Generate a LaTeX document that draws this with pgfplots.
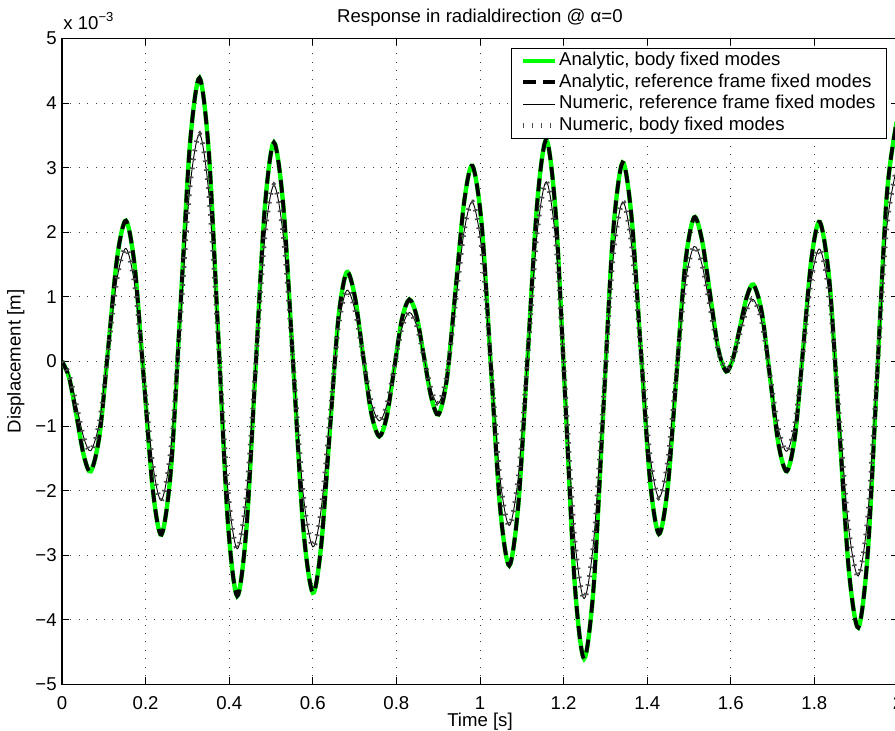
\documentclass[border=0pt]{standalone}
\usepackage{fontspec}
\setmainfont{Liberation Sans}
\usepackage{pgfplots}
\usepackage{pgfplotstable}
\pgfplotsset{compat=1.18}
\definecolor{mgreen}{rgb}{0,1,0}

% displacement in units of 1e-3 m; a = analytic, n = numeric
\pgfplotstableread{
t      a       n
0.000  0.000   0.000
0.017  -0.249  -0.202
0.035  -0.850  -0.690
0.052  -1.451  -1.178
0.069  -1.700  -1.380
0.090  -1.132  -0.922
0.111  0.240   0.185
0.132  1.612   1.292
0.153  2.180   1.750
0.174  1.469   1.179
0.1955 -0.250  -0.200
0.217  -1.968  -1.579
0.238  -2.680  -2.150
0.261  -1.645  -1.320
0.2835 0.855   0.685
0.306  3.355   2.690
0.329  4.390   3.520
0.3515 3.216   2.580
0.374  0.380   0.310
0.3965 -2.456  -1.960
0.419  -3.630  -2.900
0.441  -2.602  -2.076
0.463  -0.120  -0.085
0.485  2.362   1.906
0.507  3.390   2.730
0.530  2.370   1.910
0.5535 -0.095  -0.070
0.577  -2.560  -2.050
0.600  -3.580  -2.870
0.620  -2.854  -2.289
0.6405 -1.100  -0.885
0.661  0.654   0.519
0.681  1.380   1.100
0.7005 1.008   0.804
0.720  0.110   0.090
0.7395 -0.788  -0.624
0.759  -1.160  -0.920
0.777  -0.850  -0.674
0.795  -0.100  -0.080
0.813  0.650   0.514
0.831  0.960   0.760
0.8485 0.699   0.554
0.866  0.070   0.055
0.8835 -0.559  -0.444
0.901  -0.820  -0.650
0.921  -0.256  -0.193
0.9415 1.105   0.910
0.962  2.466   2.013
0.982  3.030   2.470
1.004  2.124   1.737
1.026  -0.065  -0.035
1.048  -2.254  -1.807
1.070  -3.160  -2.540
1.092  -2.195  -1.761
1.1145 0.135   0.120
1.137  2.465   2.001
1.159  3.430   2.780
1.1815 2.254   1.836
1.204  -0.585  -0.445
1.2265 -3.424  -2.726
1.249  -4.600  -3.670
1.272  -3.476  -2.771
1.295  -0.760  -0.600
1.318  1.956   1.571
1.341  3.080   2.470
1.3625 2.238   1.799
1.3845 0.205   0.180
1.4065 -1.828  -1.439
1.428  -2.670  -2.110
1.449  -1.953  -1.541
1.470  -0.220  -0.165
1.491  1.513   1.210
1.512  2.230   1.780
1.531  1.881   1.502
1.5505 1.038   0.830
1.570  0.194   0.158
1.589  -0.155  -0.120
1.605  0.042   0.038
1.6215 0.518   0.420
1.638  0.993   0.802
1.654  1.190   0.960
1.674  0.767   0.616
1.694  -0.255  -0.215
1.714  -1.277  -1.046
1.734  -1.700  -1.390
1.754  -1.135  -0.932
1.7735 0.230   0.175
1.793  1.595   1.282
1.813  2.160   1.740
1.836  1.241   0.999
1.859  -0.980  -0.790
1.882  -3.201  -2.579
1.905  -4.120  -3.320
1.9275 -2.982  -2.402
1.950  -0.235  -0.185
1.9725 2.512   2.032
1.995  3.650   2.950
2.000  3.640   2.940
}\resp

\begin{document}
\begin{tikzpicture}[font=\fontsize{9.3}{11}\selectfont]
\begin{axis}[
    name=ax,
    scale only axis,
    width=418pt, height=323pt,
    xmin=0, xmax=2, ymin=-5, ymax=5,
    clip mode=individual,
    axis line style={line width=0.6pt},
    tick align=inside,
    major tick length=3.5pt,
    tick style={black, line width=0.5pt},
    grid=major,
    grid style={black!75, line width=0.5pt, dash pattern=on 0.5pt off 3.7pt},
    xtick={0,0.2,0.4,0.6,0.8,1,1.2,1.4,1.6,1.8,2},
    xticklabels={0,0.2,0.4,0.6,0.8,1,1.2,1.4,1.6,1.8,2},
    ytick={-5,-4,-3,-2,-1,0,1,2,3,4,5},
    yticklabels={−5,−4,−3,−2,−1,0,1,2,3,4,5},
    xticklabel style={inner sep=0pt, yshift=-6pt},
    yticklabel style={inner sep=0pt, xshift=-2.5pt},
    xlabel={Time [s]},
    xlabel style={at={(axis description cs:0.5,-0.0433)}, anchor=north, inner sep=0pt},
    ylabel={Displacement [m]},
    ylabel style={at={(axis description cs:-0.0443,0.5)}, anchor=south, inner sep=0pt},
    legend cell align=left,
    legend image code/.code={\draw[#1] (0pt,0pt) -- (16pt,0pt);},
    legend style={at={(rel axis cs:0.9868,0.9853)}, anchor=north east,
        draw=black, inner xsep=4.5pt, inner ysep=0.8pt,
        row sep=0pt,
        nodes={inner sep=1pt, text height=6.9pt, text depth=1.9pt}},
]
\addplot[mgreen, line width=2.2pt, smooth] table[x=t, y=a]{\resp};
\addlegendentry{Analytic, body fixed modes}
\addplot[black, line width=1.9pt, dash pattern=on 6.5pt off 3.5pt, smooth] table[x=t, y=a]{\resp};
\addlegendentry{Analytic, reference frame fixed modes}
\addplot[black, line width=0.45pt, smooth] table[x=t, y=n]{\resp};
\addlegendentry{Numeric, reference frame fixed modes}
\addplot[black!70, line width=2.4pt, dash pattern=on 0.8pt off 3.7pt, smooth] table[x=t, y=n]{\resp};
\addlegendentry{Numeric, body fixed modes}
\node[anchor=base west, inner sep=0pt] at (rel axis cs:0.0012,1.0142) {x 10\textsuperscript{−3}};
\node[anchor=south, inner sep=0pt] at (rel axis cs:0.5,1.0183) {Response in radialdirection @ α=0};
\end{axis}
\pgfresetboundingbox
\path[use as bounding box] ([xshift=-31pt,yshift=-23.25pt]ax.south west) rectangle ([xshift=-1.5pt,yshift=19.25pt]ax.north east);
\end{tikzpicture}
\end{document}
